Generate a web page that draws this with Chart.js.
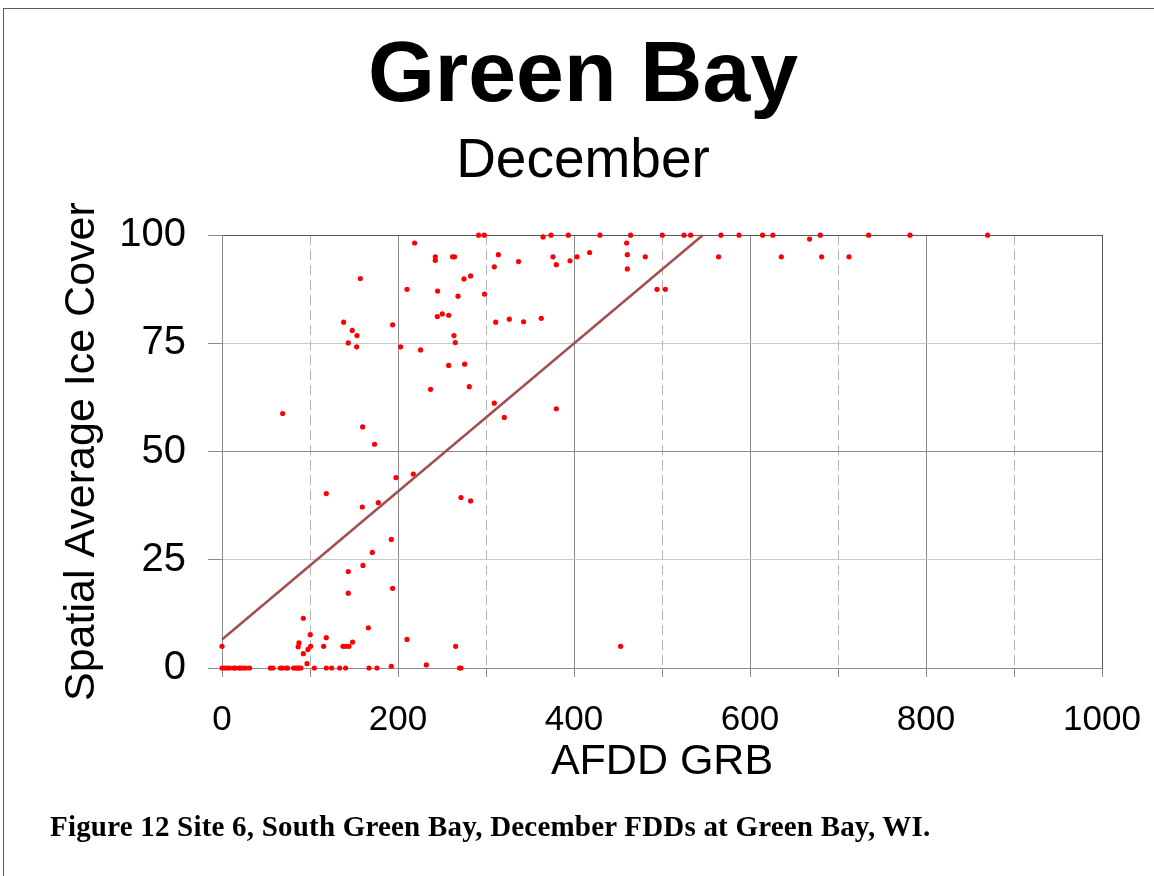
<!DOCTYPE html>
<html>
<head>
<meta charset="utf-8">
<script src="https://cdn.jsdelivr.net/npm/chart.js@4.4.1/dist/chart.umd.min.js"></script>
<style>
    html, body { margin: 0; padding: 0; background: #fff; overflow: hidden; }
    #frame {
        position: absolute; left: 3px; top: 8px; width: 1200px; height: 900px;
        border-top: 1px solid #595959; border-left: 1px solid #595959;
    }
    #wrap { position: absolute; left: 0; top: 0; width: 1154px; height: 876px; }
    #caption {
        position: absolute; left: 50px; top: 812px; white-space: nowrap; letter-spacing: 0.2px;
        font: bold 29px 'Liberation Serif', 'Times New Roman', serif; line-height: 29px; color: #000;
    }
</style>
</head>
<body>
<div id="frame"></div>
<div id="wrap"><canvas id="chart" width="1154" height="876"></canvas></div>
<div id="caption">Figure 12 Site 6, South Green Bay, December FDDs at Green Bay, WI.</div>
<script>
/* global Chart */
// AFDD at Green Bay (x) and spatial average ice cover (y)
const afddGRB = [
    0, 2.7, 5.7, 8.7, 13.3, 14.8, 19.3, 20.8, 23.9, 26.9, 31.4, 54.9, 57.9, 66.3, 68.6, 73.1,
    74.6, 81.4, 83.7, 86, 87.5, 89.7, 104.9, 118.5, 124.6, 133.7, 140.5, 167, 176.1, 270, 271.6,
    96.6, 192.4, 232.2,
    0, 87.5, 86.5, 97.7, 100.7, 115.5, 137.5, 140.5, 144.3, 148.4, 265.5, 453,
    92.4, 92.4, 166.3, 100.3, 210.2, 118.5,
    143.5, 193.9, 143.5, 160.2, 170.8, 192.4, 159.4, 177.6, 118.5, 271.6, 282.5, 197.7, 217.4,
    173.4, 159.8, 68.9, 320.8, 309.4, 379.9, 237, 281, 257.6, 275.7, 225.7,
    143.5, 153, 203, 265.1, 263.6, 153.4, 148, 138.2, 193.9, 244.7, 250.3, 257.6, 311, 326.5, 342.7, 362.8,
    157.2, 210.2, 245, 268.2, 275, 282.5, 298.4, 309.4, 314, 337, 494.3, 503.8,
    218.9, 242.4, 242.4, 262, 264.3, 376.1, 379.9, 395.5, 403.4, 417.7, 459.8, 460.6, 460.6, 481, 564.3, 635.6, 681.4, 712.5,
    291.6, 298, 364.8, 373.9, 393.5, 429.5, 464.3, 500.3, 525, 532.5, 567, 587.5, 614.3, 626, 667.7, 679.9, 734.8, 781.8, 870
];
const iceCover = [
    0, 0, 0, 0, 0, 0, 0, 0, 0, 0, 0, 0, 0, 0, 0, 0,
    0, 0, 0, 0, 0, 0, 0, 0, 0, 0, 0, 0, 0, 0, 0,
    1.0, 0.4, 0.7,
    5, 5.8, 4.9, 4.3, 5, 5, 5, 5, 5, 6, 5, 5,
    3.3, 11.5, 9.3, 7.7, 6.6, 7.0,
    17.3, 18.4, 22.3, 23.7, 26.7, 29.7, 37.2, 38.2, 40.3, 39.4, 38.6, 44.0, 44.8,
    51.7, 55.7, 58.8, 57.9, 61.2, 59.9, 64.4, 65, 69.9, 70.2, 73.5,
    75.1, 74.2, 74.2, 75.2, 76.8, 76.8, 78, 79.9, 79.3, 81.2, 81.8, 81.5, 79.9, 80.6, 80, 80.8,
    90, 87.5, 87.1, 85.9, 89.9, 90.6, 86.4, 92.7, 95.5, 93.9, 87.5, 87.5,
    98.2, 95, 94.2, 95, 95, 95, 93.2, 94.1, 95, 96, 98.2, 95.5, 92.2, 95, 95, 95, 95, 95,
    100, 100, 99.6, 100, 100, 100, 100, 100, 100, 100, 100, 100, 100, 100, 99.1, 100, 100, 100, 100
];

// linear trendline, capped at 100 % cover
const trendSlope = 0.171;
const trendIntercept = 6.6;
const trendXEnd = (100 - trendIntercept) / trendSlope;

const xTickLabels = [0, 200, 400, 600, 800, 1000];
const yTickLabels = [0, 25, 50, 75, 100];

const FONT = "'Liberation Sans', Arial, sans-serif";

const points = afddGRB.map((x, i) => ({ x: x, y: iceCover[i] }));
const trend = [0, trendXEnd].map(x => ({ x: x, y: trendIntercept + trendSlope * x }));

new Chart(document.getElementById('chart'), {
    type: 'scatter',
    data: {
        datasets: [{
            type: 'line',
            data: trend,
            borderColor: '#a34f4f',
            borderWidth: 2.5,
            pointRadius: 0,
            fill: false,
            clip: false
        }, {
            data: points,
            backgroundColor: '#ff0000',
            borderWidth: 0,
            pointRadius: 2.6,
            clip: false
        }]
    },
    options: {
        responsive: false,
        animation: false,
        events: [],
        layout: { padding: { left: 12, right: 0, top: 0, bottom: 60 } },
        plugins: {
            legend: { display: false },
            tooltip: { enabled: false },
            title: {
                display: true,
                text: 'Green Bay',
                color: '#000',
                font: { family: FONT, size: 86, weight: 'bold', lineHeight: 1.2 },
                padding: { top: 26, bottom: 0 }
            },
            subtitle: {
                display: true,
                text: 'December',
                color: '#000',
                font: { family: FONT, size: 55, weight: 'normal', lineHeight: 1.2 },
                padding: { top: 0, bottom: 40 }
            }
        },
        scales: {
            x: {
                type: 'linear',
                min: 0,
                max: 1000,
                afterFit: s => { s.height = 148; },
                ticks: {
                    stepSize: 100,
                    autoSkip: false,
                    maxRotation: 0,
                    color: '#000',
                    padding: 12,
                    // tall line box pushes the labels down without widening the right overhang
                    font: { family: FONT, size: 35, lineHeight: 1.77 },
                    callback: v => (xTickLabels.includes(v) ? String(v) : '')
                },
                grid: {
                    color: c => {
                        const v = c.tick ? c.tick.value : 0;
                        if (v === 1000) return '#595959';
                        return v % 200 === 0 ? '#8c8c8c' : '#b4b4b4';
                    },
                    tickColor: '#8c8c8c',
                    tickLength: 9,
                    tickBorderDash: [0, 0]
                },
                border: {
                    color: '#8c8c8c',
                    width: 1,
                    dash: c => (c.tick && c.tick.value % 200 !== 0 ? [10, 5] : [])
                },
                title: {
                    display: true,
                    text: 'AFDD GRB',
                    color: '#000',
                    font: { family: FONT, size: 43, lineHeight: 1.2 },
                    padding: { top: 0, bottom: 28 }
                }
            },
            y: {
                type: 'linear',
                min: 0,
                max: 100,
                afterFit: s => { s.width = 210; },
                ticks: {
                    stepSize: 25,
                    color: '#000',
                    padding: 22,
                    font: { family: FONT, size: 40 },
                    callback: v => (yTickLabels.includes(v) ? String(v) : '')
                },
                grid: {
                    color: c => {
                        const v = c.tick ? c.tick.value : 0;
                        if (v === 100) return '#595959';
                        return v % 50 === 0 ? '#8c8c8c' : '#c8c8c8';
                    },
                    tickColor: '#8c8c8c',
                    tickLength: 14
                },
                border: { color: '#8c8c8c', width: 1 },
                title: {
                    display: true,
                    text: 'Spatial Average Ice Cover',
                    color: '#000',
                    font: { family: FONT, size: 43, lineHeight: 1.2 },
                    padding: { top: 44, bottom: 0 }
                }
            },
            y2: {
                type: 'linear',
                position: 'right',
                min: 0,
                max: 100,
                afterFit: s => { s.width = 52; },
                ticks: { display: false },
                grid: { display: false, drawTicks: false },
                border: { display: true, color: '#595959', width: 1 }
            }
        }
    }
});
</script>
</body>
</html>
